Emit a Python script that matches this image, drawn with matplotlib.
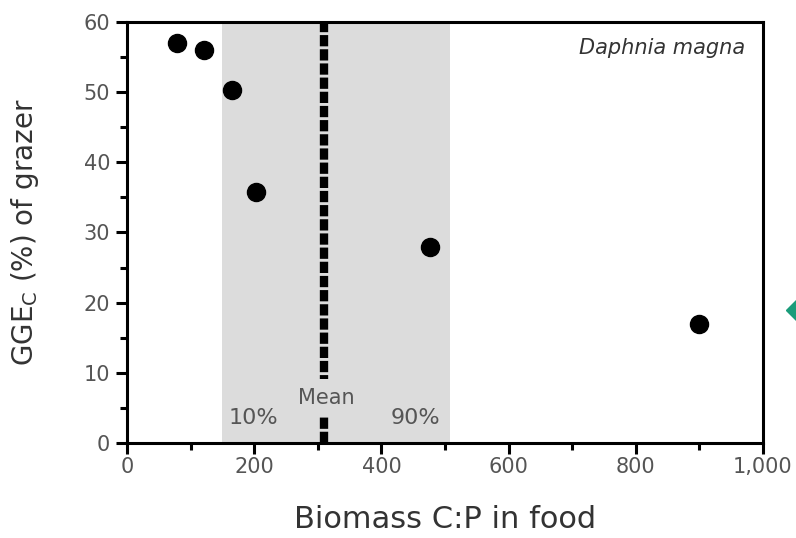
import matplotlib; matplotlib.use("Agg")
import matplotlib.pyplot as plt
from matplotlib.lines import Line2D
from matplotlib.ticker import MultipleLocator, FuncFormatter

cp_food = [79, 121, 165, 203, 476, 900]
gge_c = [57.0, 56.0, 50.3, 35.8, 27.9, 16.9]
p10, p90, cp_mean = 149, 508, 309

plt.rcParams["font.family"] = ["DejaVu Sans"]
fig = plt.figure(figsize=(7.96, 5.38), dpi=100)
ax = fig.add_axes([0.1596, 0.1766, 0.7989, 0.7825])

ax.axvspan(p10, p90, color="#dcdcdc", lw=0, zorder=0)
ax.axvline(cp_mean, color="black", lw=6, linestyle=(0, (1.35, 0.35)), zorder=1)
ax.plot(cp_food, gge_c, "o", color="black", ms=13, zorder=3)

# gap in the mean line behind its label
ax.text(cp_mean + 4, 6.4, "Mean", ha="center", va="center", fontsize=15, color="#555555",
        zorder=2, bbox=dict(facecolor="#dcdcdc", edgecolor="none", pad=6.5))
ax.text(198, 3.6, "10%", ha="center", va="center", fontsize=16, color="#555555")
ax.text(453, 3.6, "90%", ha="center", va="center", fontsize=16, color="#555555")
ax.text(972, 56.3, "Daphnia magna", ha="right", va="center", fontsize=15,
        style="italic", color="#333333")

ax.set_xlim(0, 1000)
ax.set_ylim(0, 60)
ax.xaxis.set_major_locator(MultipleLocator(200))
ax.xaxis.set_minor_locator(MultipleLocator(100))
ax.yaxis.set_major_locator(MultipleLocator(10))
ax.yaxis.set_minor_locator(MultipleLocator(5))
ax.xaxis.set_major_formatter(FuncFormatter(lambda v, p: f"{int(v):,}"))
ax.tick_params(which="major", direction="out", length=8, width=2.2,
               labelsize=15, labelcolor="#555555")
ax.tick_params(axis="x", which="major", pad=2)
ax.tick_params(axis="y", which="major", pad=4)
ax.tick_params(which="minor", direction="out", length=5, width=2.2)
for s in ax.spines.values():
    s.set_linewidth(2.2)

ax.set_xlabel("Biomass C:P in food", fontsize=22, color="#333333", labelpad=20)
ax.set_ylabel(r"GGE$_{\mathrm{C}}$ (%) of grazer", fontsize=20, color="#333333", labelpad=31)

fig.add_artist(Line2D([0.9995], [0.424], marker="D", ms=10, color="#1a9c7a",
                      transform=fig.transFigure, clip_on=False))

fig.savefig("out.png", dpi=100)
